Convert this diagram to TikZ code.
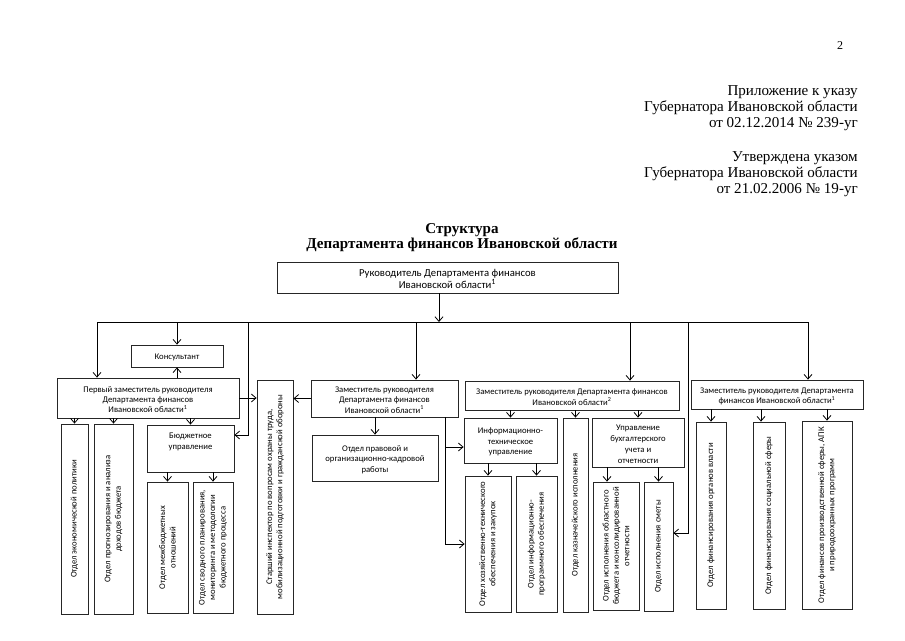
\documentclass[tikz,border=0pt]{standalone}
\usepackage{fontspec}
\setmainfont{Liberation Serif}
\newfontfamily\calfont{Carlito}
\usetikzlibrary{arrows.meta,fit}

\tikzset{
  box/.style={draw=black!85, line width=0.6pt, inner sep=0pt},
  htext/.style={align=center, inner sep=0pt, yshift=-1.2pt, font=\calfont\fontsize{6.5}{7.8}\selectfont},
  vtext/.style={align=center, inner sep=0pt, rotate=90, font=\calfont\fontsize{6.5}{7.8}\selectfont},
  link/.style={line width=0.6pt, -{Straight Barb[length=3.5pt,width=6pt]}}
}

\begin{document}
\begin{tikzpicture}[x=0.75pt,y=0.75pt,yscale=-1,xscale=1]
\useasboundingbox (0,0) rectangle (905,640);
\fill[white] (0,0) rectangle (905,640);

% Text Node
\node [anchor=center, inner sep=0pt, font=\fontsize{9}{10}\selectfont] (page) at (840,46) {2};
% Text Node
\node [anchor=north east, inner sep=0pt, align=right, font=\fontsize{11.3}{12}\selectfont] (pril) at (858,85.5) {Приложение к указу\\Губернатора Ивановской области\\от 02.12.2014 № 239-уг};
% Text Node
\node [anchor=north east, inner sep=0pt, align=right, font=\fontsize{11.3}{12}\selectfont] (utv) at (858,151.5) {Утверждена указом\\Губернатора Ивановской области\\от 21.02.2006 № 19-уг};
% Text Node
\node [anchor=north, inner sep=0pt, align=center, font=\bfseries\fontsize{11.3}{11.3}\selectfont] (title) at (462,223.5) {Структура\\Департамента финансов Ивановской области};

%Shape: Rectangle
\node [box, fit={(277,262) (618,293)}] (ruk) {};
\node [htext, font=\calfont\fontsize{8}{9}\selectfont] (rukT) at (ruk.center) {Руководитель Департамента финансов\\Ивановской области\textsuperscript{1}};
%Shape: Rectangle
\node [box, fit={(131,345) (223,367)}] (kons) {};
\node [htext] (konsT) at (kons.center) {Консультант};
%Shape: Rectangle
\node [box, fit={(57,378) (239,418)}] (pz) {};
\node [htext] (pzT) at (pz.center) {Первый заместитель руководителя\\Департамента финансов\\Ивановской области\textsuperscript{1}};
%Shape: Rectangle
\node [box, fit={(61,424) (88,614)}] (eco) {};
\node [vtext] (ecoT) at (eco.center) {Отдел экономической политики};
%Shape: Rectangle
\node [box, fit={(94,424) (133,614)}] (prog) {};
\node [vtext] (progT) at (prog.center) {Отдел прогнозирования и анализа\\доходов бюджета};
%Shape: Rectangle
\node [box, fit={(147,425) (234,472)}] (bud) {};
\node [htext] (budT) at (190.5,440.5) {Бюджетное\\управление};
%Shape: Rectangle
\node [box, fit={(147,482) (188,613)}] (mezh) {};
\node [vtext] (mezhT) at (mezh.center) {Отдел межбюджетных\\отношений};
%Shape: Rectangle
\node [box, fit={(193,482) (233,613)}] (svod) {};
\node [vtext] (svodT) at (svod.center) {Отдел сводного планирования,\\мониторинга и методологии\\бюджетного процесса};
%Shape: Rectangle
\node [box, fit={(257,380) (293,614)}] (insp) {};
\node [vtext] (inspT) at (insp.center) {Старший инспектор по вопросам охраны труда,\\мобилизационной подготовки и гражданской обороны};
%Shape: Rectangle
\node [box, fit={(311,380) (458,417)}] (zm) {};
\node [htext] (zmT) at (zm.center) {Заместитель руководителя\\Департамента финансов\\Ивановской области\textsuperscript{1}};
%Shape: Rectangle
\node [box, fit={(312,435) (438,481)}] (prav) {};
\node [htext] (pravT) at (prav.center) {Отдел правовой и\\организационно-кадровой\\работы};
%Shape: Rectangle
\node [box, fit={(465,381) (679,410)}] (zd) {};
\node [htext] (zdT) at (zd.center) {Заместитель руководителя Департамента финансов\\Ивановской области\textsuperscript{2}};
%Shape: Rectangle
\node [box, fit={(464,418) (557,463)}] (itu) {};
\node [htext] (ituT) at (itu.center) {Информационно-\\техническое\\управление};
%Shape: Rectangle
\node [box, fit={(563,418) (588,612)}] (kazn) {};
\node [vtext] (kaznT) at (kazn.center) {Отдел казначейского исполнения};
%Shape: Rectangle
\node [box, fit={(592,418) (684,467)}] (ubu) {};
\node [htext, font=\calfont\fontsize{6.5}{8.3}\selectfont] (ubuT) at (ubu.center) {Управление\\бухгалтерского\\учета и\\отчетности};
%Shape: Rectangle
\node [box, fit={(465,476) (511,612)}] (hoz) {};
\node [vtext] (hozT) at (hoz.center) {Отдел хозяйственно-технического\\обеспечения и закупок};
%Shape: Rectangle
\node [box, fit={(516,476) (557,612)}] (inf) {};
\node [vtext] (infT) at (inf.center) {Отдел информационно-\\программного обеспечения};
%Shape: Rectangle
\node [box, fit={(593,482) (639,610)}] (obl) {};
\node [vtext] (oblT) at (obl.center) {Отдел исполнения областного\\бюджета и консолидированной\\отчетности};
%Shape: Rectangle
\node [box, fit={(644,482) (673,611)}] (smeta) {};
\node [vtext] (smetaT) at (smeta.center) {Отдел исполнения сметы};
%Shape: Rectangle
\node [box, fit={(691,380) (863,409)}] (zt) {};
\node [htext] (ztT) at (zt.center) {Заместитель руководителя Департамента\\финансов Ивановской области\textsuperscript{1}};
%Shape: Rectangle
\node [box, fit={(696,422) (726,609)}] (org) {};
\node [vtext] (orgT) at (org.center) {Отдел финансирования органов власти};
%Shape: Rectangle
\node [box, fit={(753,422) (785,609)}] (soc) {};
\node [vtext] (socT) at (soc.center) {Отдел финансирования социальной сферы};
%Shape: Rectangle
\node [box, fit={(802,421) (852,609)}] (proiz) {};
\node [vtext] (proizT) at (proiz.center) {Отдел финансов производственной сферы, АПК\\и природоохранных программ};

% bus points
\coordinate (busL) at (97,322);
\coordinate (busR) at (808,322);
\coordinate (top) at (439,322);
\coordinate (bus1) at (248,322);
\coordinate (bus2) at (416,322);
\coordinate (bus3) at (630,322);
\coordinate (bus4) at (688,322);
\coordinate (zmB) at (zm.south -| 445,0);
\coordinate (oblIn) at (obl.north -| 607,0);
\coordinate (socIn) at (soc.north -| 761,0);

%Straight Lines
\draw [link] (top |- ruk.south) -- (top);
\draw [line width=0.6pt] (busL) -- (busR);
\draw [link] (busL) -- (busL |- pz.north);
\draw [link] (kons.north |- busL) -- (kons.north);
\draw [link] (kons.south |- pz.north) -- (kons.south);
\draw [link] (bus1) |- (bud.east |- 0,435);
\draw [link] (pz.east) -- (pz.east -| insp.west);
\draw [link] (eco.north |- pz.south) -- (eco.north);
\draw [link] (prog.north |- pz.south) -- (prog.north);
\draw [link] (bud.north |- pz.south) -- (bud.north);
\draw [link] (mezh.north |- bud.south) -- (mezh.north);
\draw [link] (svod.north |- bud.south) -- (svod.north);
%Straight Lines
\draw [link] (bus2) -- (bus2 |- zm.north);
\draw [link] (zm.west) -- (zm.west -| insp.east);
\draw [link] (prav.north |- zm.south) -- (prav.north);
\draw [link] (zmB) |- (hoz.west);
\draw [link] (zmB |- 0,447) -- (itu.west |- 0,447);
%Straight Lines
\draw [link] (bus3) -- (bus3 |- zd.north);
\draw [link] (itu.north |- zd.south) -- (itu.north);
\draw [link] (kazn.north |- zd.south) -- (kazn.north);
\draw [link] (ubu.north |- zd.south) -- (ubu.north);
\draw [link] (hoz.north |- itu.south) -- (hoz.north);
\draw [link] (inf.north |- itu.south) -- (inf.north);
\draw [link] (oblIn |- ubu.south) -- (oblIn);
\draw [link] (smeta.north |- ubu.south) -- (smeta.north);
\draw [link] (bus4) |- (smeta.east |- 0,533);
%Straight Lines
\draw [link] (busR) -- (busR |- zt.north);
\draw [link] (org.north |- zt.south) -- (org.north);
\draw [link] (socIn |- zt.south) -- (socIn);
\draw [link] (proiz.north |- zt.south) -- (proiz.north);

\end{tikzpicture}
\end{document}
